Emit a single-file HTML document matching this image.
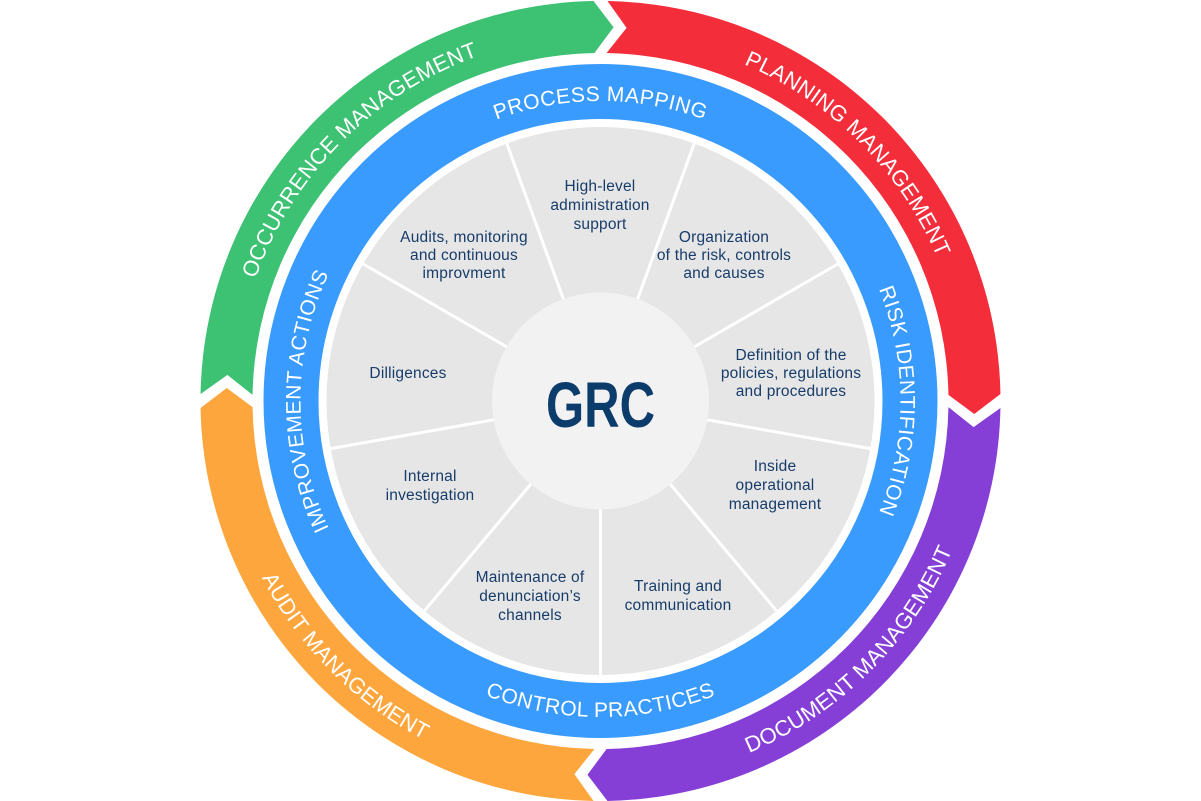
<!DOCTYPE html>
<html><head><meta charset="utf-8"><style>
html,body{margin:0;padding:0;background:#fff;}
svg{display:block}
.o{font-family:"Liberation Sans",sans-serif;font-size:22px;fill:#fff;letter-spacing:0.2px}
.b{font-family:"Liberation Sans",sans-serif;font-size:21px;fill:#fff;letter-spacing:0.5px}
.s{font-family:"Liberation Sans",sans-serif;font-size:15.5px;fill:#173c69;text-anchor:middle;letter-spacing:0.2px}
</style></head><body>
<svg width="1201" height="801" viewBox="0 0 1201 801" xmlns="http://www.w3.org/2000/svg">
<defs>
<path id="seg" d="M -399.94,-6.98 A 400 400 0 0 1 -6.98,-399.94 L 13.05,-373.77 L -6.07,-347.95 A 348 348 0 0 0 -347.95,-6.07 L -373.09,-26.09 Z"/>
<path id="pg" d="M -366,0 A 366 366 0 0 1 0,-366"/>
<path id="pr" d="M 0,-366 A 366 366 0 0 1 366,0"/>
<path id="pp" d="M 0,382 A 382 382 0 0 0 382,0"/>
<path id="po" d="M -382,0 A 382 382 0 0 0 0,382"/>
<path id="bt" d="M -300,0 A 300 300 0 0 1 300,0"/>
<path id="br" d="M 0,-300 A 300 300 0 0 1 0,300"/>
<path id="bl" d="M 0,300 A 300 300 0 0 1 0,-300"/>
<path id="bb" d="M -316,0 A 316 316 0 0 0 316,0"/>
</defs>
<g transform="translate(600.5,401)">
<use href="#seg" fill="#3dc173"/>
<use href="#seg" fill="#f42d3b" transform="rotate(90)"/>
<use href="#seg" fill="#853fd6" transform="rotate(180)"/>
<use href="#seg" fill="#fea63e" transform="rotate(270)"/>
<circle r="309.5" fill="none" stroke="#3a9bff" stroke-width="55"/>
<circle r="274" fill="#e6e6e6"/>
<g stroke="#fff" stroke-width="3">
<line x1="0" y1="0" x2="0" y2="280"/>
<line x1="0" y1="0" x2="0" y2="280" transform="rotate(40)"/>
<line x1="0" y1="0" x2="0" y2="280" transform="rotate(80)"/>
<line x1="0" y1="0" x2="0" y2="280" transform="rotate(120)"/>
<line x1="0" y1="0" x2="0" y2="280" transform="rotate(160)"/>
<line x1="0" y1="0" x2="0" y2="280" transform="rotate(200)"/>
<line x1="0" y1="0" x2="0" y2="280" transform="rotate(240)"/>
<line x1="0" y1="0" x2="0" y2="280" transform="rotate(280)"/>
<line x1="0" y1="0" x2="0" y2="280" transform="rotate(320)"/>
</g>
<circle r="108.5" fill="#f2f2f2"/>
<text class="o"><textPath href="#pg" startOffset="50%" text-anchor="middle">OCCURRENCE MANAGEMENT</textPath></text>
<text class="o"><textPath href="#pr" startOffset="50%" text-anchor="middle">PLANNING MANAGEMENT</textPath></text>
<text class="o"><textPath href="#pp" startOffset="50%" text-anchor="middle">DOCUMENT MANAGEMENT</textPath></text>
<text class="o"><textPath href="#po" startOffset="50%" text-anchor="middle">AUDIT MANAGEMENT</textPath></text>
<text class="b"><textPath href="#bt" startOffset="50%" text-anchor="middle">PROCESS MAPPING</textPath></text>
<text class="b"><textPath href="#br" startOffset="50%" text-anchor="middle">RISK IDENTIFICATION</textPath></text>
<text class="b"><textPath href="#bl" startOffset="50%" text-anchor="middle">IMPROVEMENT ACTIONS</textPath></text>
<text class="b"><textPath href="#bb" startOffset="50%" text-anchor="middle">CONTROL PRACTICES</textPath></text>
</g>
<text x="546" y="427" font-family="Liberation Sans,sans-serif" font-size="64" font-weight="bold" fill="#0c3c6b" textLength="109" lengthAdjust="spacingAndGlyphs">GRC</text>
<text class="s" x="600" y="191">High-level</text>
<text class="s" x="600" y="210">administration</text>
<text class="s" x="600" y="229">support</text>
<text class="s" x="724" y="242">Organization</text>
<text class="s" x="724" y="260">of the risk, controls</text>
<text class="s" x="724" y="278">and causes</text>
<text class="s" x="791" y="360">Definition of the</text>
<text class="s" x="791" y="378">policies, regulations</text>
<text class="s" x="791" y="396">and procedures</text>
<text class="s" x="775" y="471">Inside</text>
<text class="s" x="775" y="490">operational</text>
<text class="s" x="775" y="509">management</text>
<text class="s" x="678" y="591">Training and</text>
<text class="s" x="678" y="610">communication</text>
<text class="s" x="530" y="582">Maintenance of</text>
<text class="s" x="530" y="601">denunciation’s</text>
<text class="s" x="530" y="620">channels</text>
<text class="s" x="430" y="481">Internal</text>
<text class="s" x="430" y="500">investigation</text>
<text class="s" x="408" y="378">Dilligences</text>
<text class="s" x="464" y="242">Audits, monitoring</text>
<text class="s" x="464" y="260">and continuous</text>
<text class="s" x="464" y="278">improvment</text>
</svg>
</body></html>
